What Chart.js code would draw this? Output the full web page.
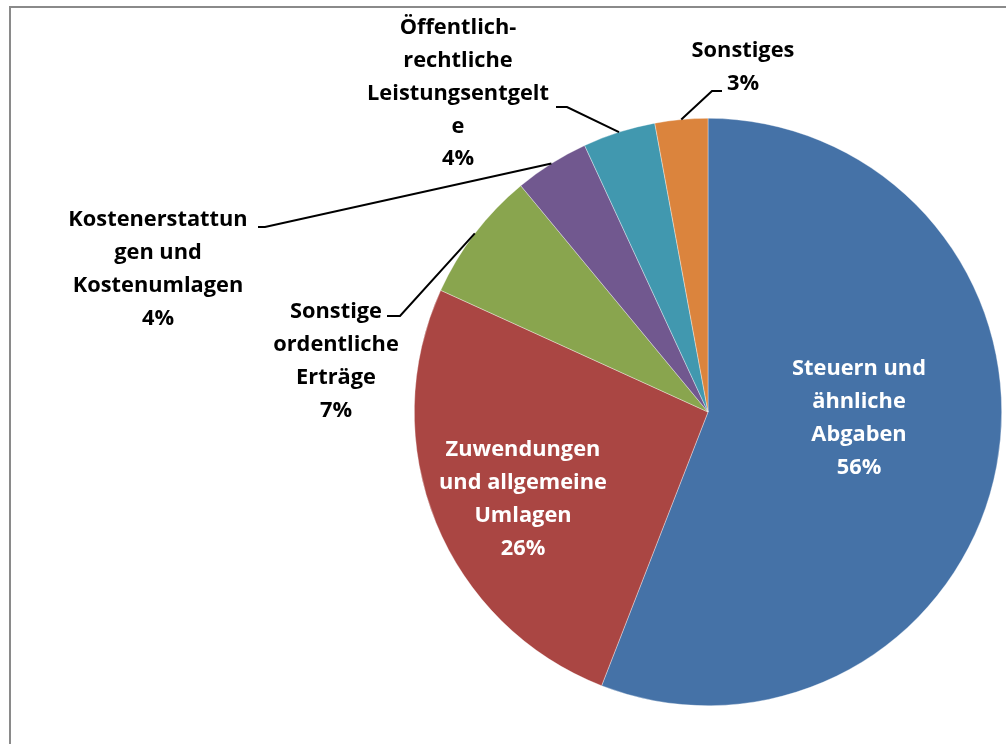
<!DOCTYPE html>
<html>
<head>
<meta charset="utf-8">
<script src="https://cdn.jsdelivr.net/npm/chart.js@4/dist/chart.umd.min.js"></script>
<style>
  html,body{margin:0;padding:0;background:#fff;overflow:hidden;}
  #wrap{position:relative;width:1006px;height:744px;}
  #frame{position:absolute;left:9px;top:6px;width:1020px;height:760px;border:2px solid #8a8a8a;box-sizing:border-box;}
  #chart{position:absolute;left:0;top:0;}
</style>
</head>
<body>
<div id="wrap">
  <div id="frame"></div>
  <canvas id="chart" width="1006" height="744"></canvas>
</div>
<script>
const categories = [
  ["Steuern und","ähnliche","Abgaben"],
  ["Zuwendungen","und allgemeine","Umlagen"],
  ["Sonstige","ordentliche","Erträge"],
  ["Kostenerstattun","gen und","Kostenumlagen"],
  ["Öffentlich-","rechtliche","Leistungsentgelt","e"],
  ["Sonstiges"]
];
const shares = [55.9, 25.9, 7.2, 4.1, 4.0, 2.9];
const sliceColors = ["#4572A7","#AA4643","#89A54E","#71588F","#4198AF","#DB843D"];

// where each label block sits (centre x, middle of first line) and its leader elbow
const spots = [
  {x:859, y:369, color:"#fff"},
  {x:523, y:450, color:"#fff"},
  {x:336, y:312, elbow:[400,316], tail:[387,316]},
  {x:158, y:220, elbow:[265,227], tail:[258,227]},
  {x:458, y:28,  elbow:[567,107], tail:[556,107]},
  {x:743, y:51,  elbow:[712,91],  tail:[722,91]}
];
const LINE_H = 32.8;
const FONT = "bold 21.8px 'Open Sans', sans-serif";

function qs(id){ return document.getElementById(id); }

const pieLabels = {
  id:"pieLabels",
  afterDatasetsDraw(chart){
    const ctx = chart.ctx;
    const arcs = chart.getDatasetMeta(0).data;
    ctx.save();
    arcs.forEach((arc,i)=>{
      const s = spots[i];
      if(s.elbow){
        const p = arc.getProps(["x","y","startAngle","endAngle","outerRadius"],true);
        const mid = (p.startAngle+p.endAngle)/2;
        ctx.beginPath();
        ctx.moveTo(p.x+Math.cos(mid)*p.outerRadius, p.y+Math.sin(mid)*p.outerRadius);
        ctx.lineTo(s.elbow[0], s.elbow[1]);
        ctx.lineTo(s.tail[0], s.tail[1]);
        ctx.strokeStyle = "#000";
        ctx.lineWidth = 2;
        ctx.stroke();
      }
      const lines = categories[i].concat([Math.round(shares[i])+"%"]);
      ctx.font = FONT;
      ctx.fillStyle = s.color || "#000";
      ctx.textAlign = "center";
      ctx.textBaseline = "middle";
      lines.forEach((t,k)=> ctx.fillText(t, s.x, s.y + k*LINE_H));
    });
    ctx.restore();
  }
};

new Chart(qs("chart"),{
  type:"pie",
  data:{
    labels:categories.map(c=>c.join(" ")),
    datasets:[{
      data:shares,
      backgroundColor:sliceColors,
      borderColor:"rgba(255,255,255,0.6)",
      borderWidth:0.6
    }]
  },
  options:{
    responsive:false,
    animation:false,
    devicePixelRatio:1,
    layout:{padding:{left:414,right:4,top:118,bottom:38}},
    plugins:{legend:{display:false},tooltip:{enabled:false}}
  },
  plugins:[pieLabels]
});
</script>
</body>
</html>
